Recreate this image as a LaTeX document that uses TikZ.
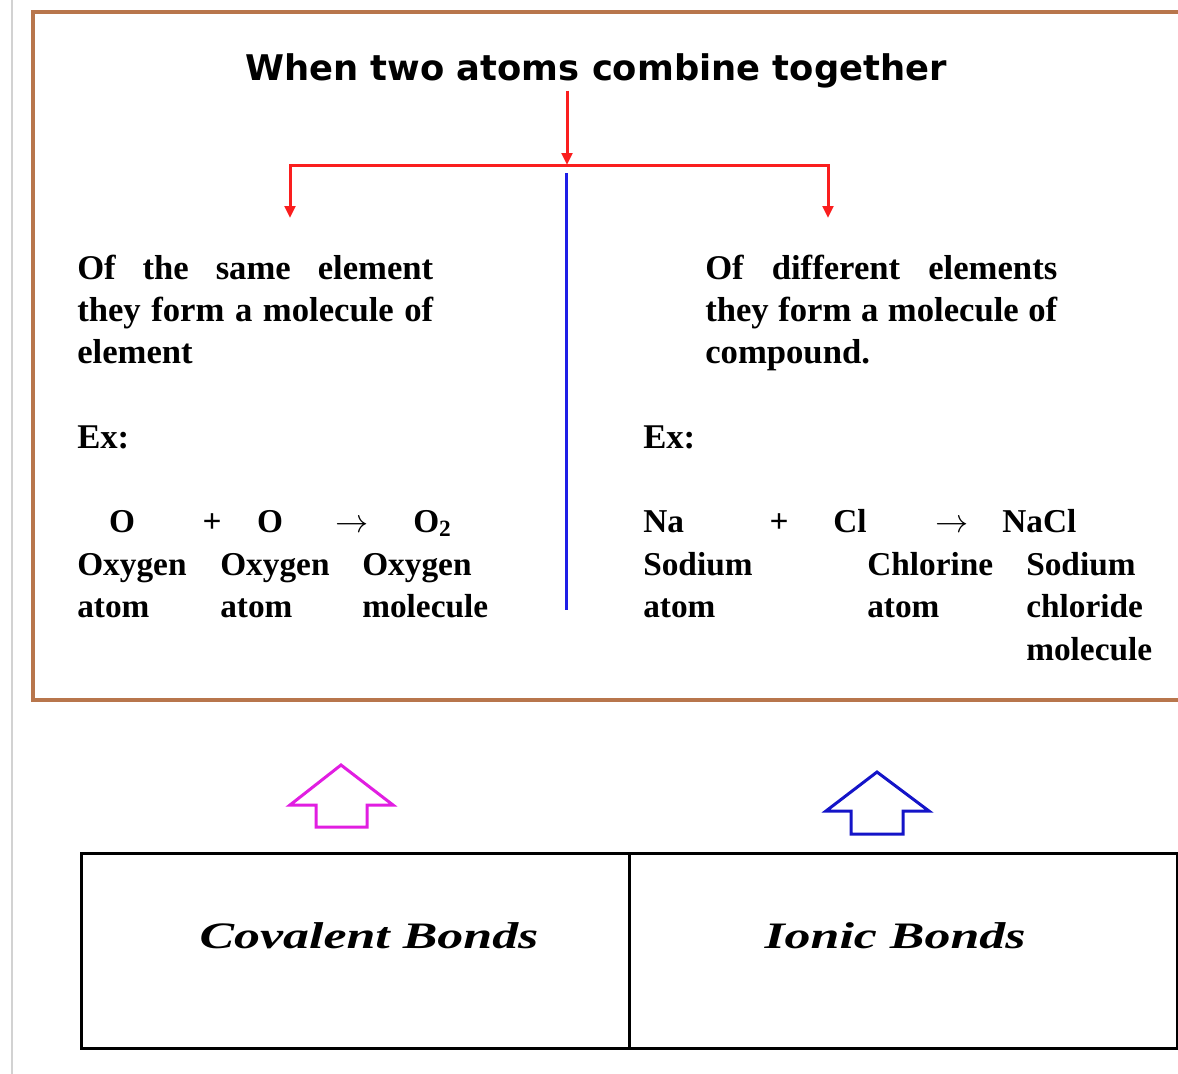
\documentclass[tikz,border=0pt]{standalone}
\usepackage{fontspec}
\setmainfont{Liberation Serif}
\newfontfamily\headfont{DejaVu Sans}
\usetikzlibrary{arrows.meta}
\definecolor{framebrown}{RGB}{184,118,76}
\definecolor{splitred}{RGB}{250,30,30}
\definecolor{sepblue}{RGB}{30,30,230}
\definecolor{covpink}{RGB}{225,30,225}
\definecolor{ionblue}{RGB}{20,20,200}

\begin{document}
\begin{tikzpicture}[x=0.75pt,y=-0.75pt,
    para/.style={anchor=base west,inner sep=0pt,text width=#1,align=justify,
      font=\fontsize{26pt}{31.5pt}\selectfont\bfseries},
    eq/.style={anchor=base west,inner sep=0pt,font=\fontsize{25pt}{30pt}\selectfont\bfseries},
    eqc/.style={eq,anchor=base},
    split/.style={splitred,line width=2.25pt,-{Triangle[length=9pt,width=8pt]}},
    hollow/.style={line width=2.25pt,line join=miter},
    cell/.style={draw,line width=2pt,minimum width=411pt,minimum height=146.25pt,
      inner sep=0pt,anchor=north west},
    bondtext/.style={font=\fontsize{28pt}{34pt}\selectfont\bfseries\itshape}]
  \useasboundingbox (0,0) rectangle (1178,1074);
  \clip (0,0) rectangle (1178,1074);
  \fill[white] (0,0) rectangle (1178,1074);
  \draw[gray!35,line width=1pt] (12,0) -- (12,1074);
  % outer frame, runs off the right edge
  \draw[framebrown,line width=3pt] (33,12) rectangle (1240,700);

  \node[anchor=base,inner sep=2pt,font=\fontsize{26.5pt}{32pt}\headfont\bfseries]
    (title) at (596,80) {When two atoms combine together};
  \coordinate (fork) at (567,165);
  \coordinate (samehead) at (290,218);
  \coordinate (diffhead) at (828,218);
  \draw[split] (title.south -| fork) -- (fork);
  \draw[split] (fork) -| (samehead);
  \draw[split] (fork) -| (diffhead);
  \draw[sepblue,line width=2.25pt] (566,173) -- (566,610);

  % same element
  \node[para=267pt] (same) at (77,279)
    {\makebox[267pt][s]{Of\hfill the\hfill same\hfill element}\\
     \makebox[267pt][s]{they\hfill form\hfill a\hfill molecule\hfill of}\\ element};
  \node[eq,font=\fontsize{26pt}{31.5pt}\selectfont\bfseries] (exsame) at (77,448) {Ex:};
  \node[eqc] (oa) at (122,532) {O};
  \node[eqc] (plusa) at (212,532) {+};
  \node[eqc] (ob) at (270,532) {O};
  \node[eqc] (toa) at (352,532) {$\rightarrow$};
  \node[eq] (otwo) at (413,532) {O\textsubscript{2}};
  \node[eq] (oxa) at (77,575) {Oxygen};
  \node[eq] (oxb) at (220,575) {Oxygen};
  \node[eq] (oxm) at (362,575) {Oxygen};
  \node[eq] (atoma) at (77,617) {atom};
  \node[eq] (atomb) at (220,617) {atom};
  \node[eq] (molo) at (362,617) {molecule};

  % different elements
  \node[para=264pt] (diff) at (705,279)
    {\makebox[264pt][s]{Of\hfill different\hfill elements}\\
     \makebox[264pt][s]{they\hfill form\hfill a\hfill molecule\hfill of}\\ compound.};
  \node[eq,font=\fontsize{26pt}{31.5pt}\selectfont\bfseries] (exdiff) at (643,448) {Ex:};
  \node[eq] (na) at (643,532) {Na};
  \node[eqc] (plusb) at (779,532) {+};
  \node[eq] (cl) at (833,532) {Cl};
  \node[eqc] (tob) at (952,532) {$\rightarrow$};
  \node[eq] (nacl) at (1002,532) {NaCl};
  \node[eq] (sod) at (643,575) {Sodium};
  \node[eq] (chl) at (867,575) {Chlorine};
  \node[eq] (sodb) at (1026,575) {Sodium};
  \node[eq] (atomc) at (643,617) {atom};
  \node[eq] (atomd) at (867,617) {atom};
  \node[eq] (chlor) at (1026,617) {chloride};
  \node[eq] (molc) at (1026,660) {molecule};

  % hollow up arrows
  \draw[hollow,covpink] (341,765) -- (393,805) -- (367,805) -- (367,827)
    -- (316,827) -- (316,805) -- (290,805) -- cycle;
  \draw[hollow,ionblue] (877,772) -- (929,811) -- (903,811) -- (903,834)
    -- (851,834) -- (851,811) -- (826,811) -- cycle;

  \node[cell] (covcell) at (80,852) {};
  \node[cell] (ioncell) at (628,852) {};
  \node[bondtext] (covtext) at (369,936) {\scalebox{1.39}[1]{Covalent Bonds}};
  \node[bondtext] (iontext) at (895,936) {\scalebox{1.39}[1]{Ionic Bonds}};
\end{tikzpicture}
\end{document}
